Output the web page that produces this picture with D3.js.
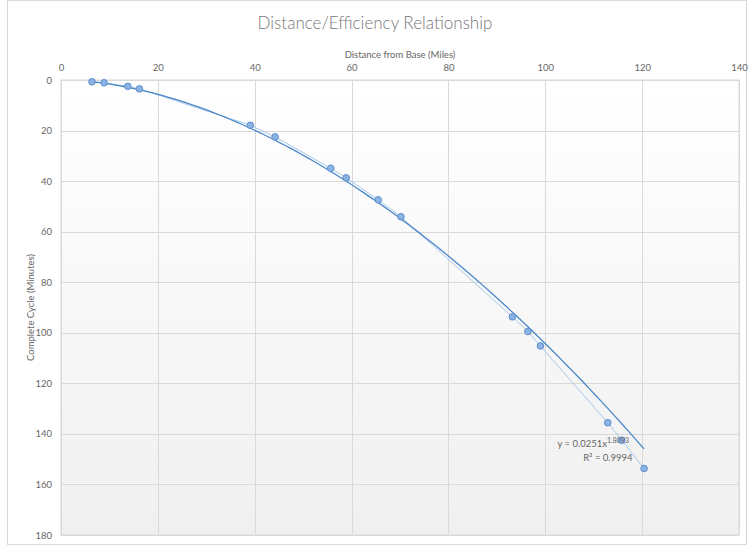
<!DOCTYPE html>
<html>
<head>
<meta charset="utf-8">
<script src="https://cdn.jsdelivr.net/npm/d3@7"></script>
<style>
  body { margin: 0; background: #fff; }
  svg text { font-family: Lato, "Open Sans", sans-serif; fill: #666; }
</style>
</head>
<body>
<svg id="chart" width="750" height="545"></svg>
<script>
// data
const distance = [6.4, 8.9, 13.8, 16.2, 39.1, 44.2, 55.7, 58.9, 65.5, 70.2, 93.2, 96.4, 99.0, 112.9, 115.8, 120.4];
const cycle    = [0.7, 1.1, 2.5, 3.5, 17.9, 22.5, 34.9, 38.7, 47.4, 54.1, 93.7, 99.5, 105.2, 135.6, 142.5, 153.7];
const xTicks = [0, 20, 40, 60, 80, 100, 120, 140];
const yTicks = [0, 20, 40, 60, 80, 100, 120, 140, 160, 180];
const trendA = 0.0251, trendB = 1.8093;

const width = 750, height = 545;
const margin = { left: 61, right: 11, top: 80, bottom: 10 };

const svg = d3.select("#chart");

// chart border
svg.append("rect")
  .attr("x", 7.5).attr("y", 0.5)
  .attr("width", 739).attr("height", 544)
  .attr("fill", "#fff")
  .attr("stroke", "#d9d9d9");

const x = d3.scaleLinear().domain([0, 140]).range([margin.left, width - margin.right]);
const y = d3.scaleLinear().domain([0, 180]).range([margin.top, height - margin.bottom]);

// plot area background
const grad = svg.append("defs").append("linearGradient")
  .attr("id", "bg").attr("x1", 0).attr("y1", 0).attr("x2", 0).attr("y2", 1);
grad.append("stop").attr("offset", "0%").attr("stop-color", "#ffffff");
grad.append("stop").attr("offset", "100%").attr("stop-color", "#f0f0f0");

svg.append("rect")
  .attr("x", x(0)).attr("y", y(0))
  .attr("width", x(140) - x(0)).attr("height", y(180) - y(0))
  .attr("fill", "url(#bg)")
  .attr("stroke", "#d9d9d9");

// gridlines
svg.append("g").selectAll("line")
  .data(xTicks)
  .enter().append("line")
  .attr("x1", d => Math.round(x(d)) + 0.5).attr("x2", d => Math.round(x(d)) + 0.5)
  .attr("y1", y(0)).attr("y2", y(180))
  .attr("stroke", "#d9d9d9");

svg.append("g").selectAll("line")
  .data(yTicks)
  .enter().append("line")
  .attr("x1", x(0)).attr("x2", x(140))
  .attr("y1", d => Math.round(y(d)) + 0.5).attr("y2", d => Math.round(y(d)) + 0.5)
  .attr("stroke", "#d9d9d9");

// axes (top x, left y) - labels only
const xAxis = svg.append("g")
  .attr("transform", `translate(0, ${y(0) - 9})`)
  .call(d3.axisTop(x).tickValues(xTicks).tickSize(0).tickPadding(0));
xAxis.select(".domain").remove();
xAxis.selectAll("text").style("font-size", "9.5px").attr("fill", "#666");

const yAxis = svg.append("g")
  .attr("transform", `translate(${x(0) - 9}, 0)`)
  .call(d3.axisLeft(y).tickValues(yTicks).tickSize(0).tickPadding(0));
yAxis.select(".domain").remove();
yAxis.selectAll("text").style("font-size", "9.5px").attr("fill", "#666");

// titles
svg.append("text")
  .attr("x", 375).attr("y", 29)
  .attr("text-anchor", "middle")
  .style("font-size", "17px")
  .style("font-weight", 300)
  .style("fill", "#777")
  .text("Distance/Efficiency Relationship");

svg.append("text")
  .attr("x", (x(0) + x(140)) / 2).attr("y", 58)
  .attr("text-anchor", "middle")
  .style("font-size", "9.5px")
  .text("Distance from Base (Miles)");

svg.append("text")
  .attr("transform", `translate(34, ${(y(0) + y(180)) / 2}) rotate(-90)`)
  .attr("text-anchor", "middle")
  .style("font-size", "9.5px")
  .text("Complete Cycle (Minutes)");

// connecting line
const pts = distance.map((d, i) => [d, cycle[i]]);
svg.append("path")
  .datum(pts)
  .attr("fill", "none")
  .attr("stroke", "#9dc3e6")
  .attr("stroke-width", 0.9)
  .attr("d", d3.line().x(d => x(d[0])).y(d => y(d[1])));

// power trendline
const trend = d3.range(0, 101).map(i => {
  const xv = distance[0] + (distance[distance.length - 1] - distance[0]) * i / 100;
  return [xv, trendA * Math.pow(xv, trendB)];
});
svg.append("path")
  .datum(trend)
  .attr("fill", "none")
  .attr("stroke", "#4a87c9")
  .attr("stroke-width", 1.3)
  .attr("d", d3.line().x(d => x(d[0])).y(d => y(d[1])));

// markers
svg.append("g").selectAll("circle")
  .data(pts)
  .enter().append("circle")
  .attr("cx", d => x(d[0])).attr("cy", d => y(d[1]))
  .attr("r", 3.3)
  .attr("fill", "#8db3e2")
  .attr("stroke", "#5b8fd1")
  .attr("stroke-width", 1);

// equation label
const eq = svg.append("text")
  .attr("x", 629).attr("y", 447)
  .attr("text-anchor", "end")
  .style("font-size", "9.5px");
eq.append("tspan").text("y = 0.0251x");
eq.append("tspan").attr("dy", -4).style("font-size", "7px").text(String(trendB));

svg.append("text")
  .attr("x", 608).attr("y", 461)
  .attr("text-anchor", "middle")
  .style("font-size", "9.5px")
  .text("R² = 0.9994");
</script>
</body>
</html>
